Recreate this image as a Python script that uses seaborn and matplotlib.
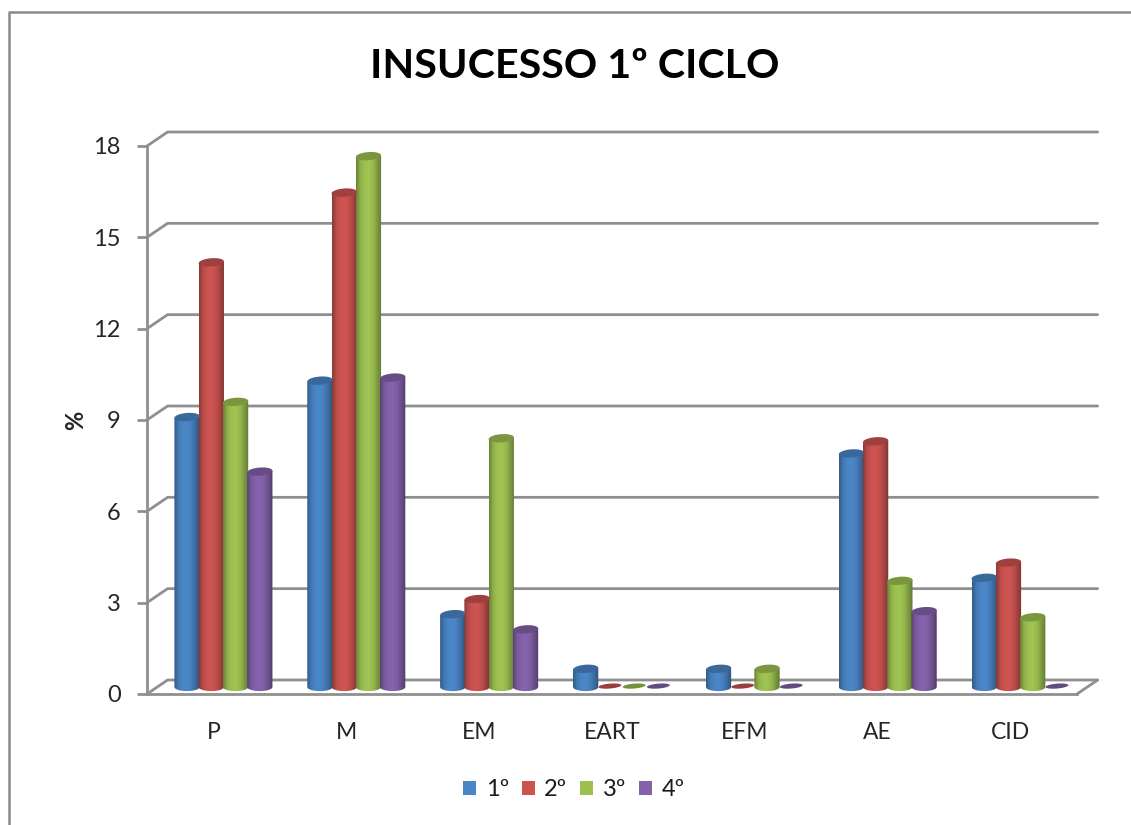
import numpy as np
import pandas as pd
import matplotlib
matplotlib.use("Agg")
import matplotlib.pyplot as plt
import seaborn as sns
from matplotlib.colors import LinearSegmentedColormap, to_rgb
from matplotlib.lines import Line2D
from matplotlib.patches import Patch, PathPatch
from matplotlib.path import Path

disciplinas = ["P", "M", "EM", "EART", "EFM", "AE", "CID"]
anos = ["1º", "2º", "3º", "4º"]
ano_1 = [8.9, 10.1, 2.4, 0.6, 0.6, 7.7, 3.6]
ano_2 = [14.0, 16.3, 2.9, 0.0, 0.0, 8.1, 4.1]
ano_3 = [9.4, 17.5, 8.2, 0.0, 0.6, 3.5, 2.3]
ano_4 = [7.1, 10.2, 1.9, 0.0, 0.0, 2.5, 0.0]
y_ticks = [0, 3, 6, 9, 12, 15, 18]
cores = ["#4a85c5", "#cb5350", "#9dc151", "#8462aa"]

W, H = 1131, 825
GREY = "#8f8f8f"

sns.set_theme(style="white")
plt.rcParams["font.family"] = ["Lato", "DejaVu Sans"]
plt.rcParams["text.color"] = "#1a1a1a"

df = pd.DataFrame({"disciplina": disciplinas * 4,
                   "ano": [a for a in anos for _ in disciplinas],
                   "valor": ano_1 + ano_2 + ano_3 + ano_4})


def px_axes(fig, left, top, right, bottom):
    return fig.add_axes([left / W, 1 - bottom / H, (right - left) / W, (bottom - top) / H])


def cap_path(cx, w, y, cap_h, tilt):
    # slightly tilted ellipse, the top of a cylinder
    t = np.linspace(0, 2 * np.pi, 48)
    return Path(np.column_stack([cx + w / 2 * np.cos(t),
                                 y + cap_h / 2 * np.sin(t) + tilt * np.cos(t)]))


fig = plt.figure(figsize=(W / 100, H / 100), dpi=100, facecolor="white")

# outer chart frame: only top and left edges show in the screenshot
fig.add_artist(Line2D([8.5 / W, 8.5 / W, 1.0], [0, 1 - 11.5 / H, 1 - 11.5 / H],
                      transform=fig.transFigure, color="#8a8a8a", lw=1.8))

# --- front plane: ticks, labels and the fake 3D walls ---
wall = px_axes(fig, 147, 146, 1077, 694)
wall.set_xlim(-0.5, 6.5)
wall.set_ylim(0, 18)
wall.set_xticks(range(len(disciplinas)))
wall.set_xticklabels(disciplinas, fontsize=16.5)
wall.set_yticks(y_ticks)
wall.tick_params(axis="y", left=True, length=7, width=2, color=GREY, labelsize=17, pad=12)
wall.tick_params(axis="x", bottom=False, pad=14)
wall.set_ylabel("%", fontsize=17, fontweight="bold", labelpad=4)
for name, sp in wall.spines.items():
    sp.set_visible(name in ("left", "bottom"))
    sp.set_color(GREY)
    sp.set_linewidth(2)

dx, dy = 0.155, 0.46  # depth of the floor in data units
for t in y_ticks:
    wall.plot([-0.5, -0.5 + dx, 6.5 + dx], [t, t + dy, t + dy], color=GREY, lw=2,
              clip_on=False, zorder=1, solid_joinstyle="miter")
wall.plot([6.5, 6.5 + dx], [0, dy], color=GREY, lw=2, clip_on=False, zorder=1)

# --- bars sit a little behind the front plane ---
ax = px_axes(fig, 157, 141, 1087, 687)
ax.patch.set_alpha(0)
sns.barplot(data=df, x="disciplina", y="valor", hue="ano", hue_order=anos,
            palette=cores, width=0.73, gap=0, legend=False, ax=ax)
ax.set_xlim(-0.5, 6.5)
ax.set_ylim(0, 18)
ax.axis("off")

cap_h = 0.27
tilt = 0.03
overlap = 0.004  # closes the hairline between neighbouring cylinders
for cont, cor in zip(ax.containers, cores):
    base = np.array(to_rgb(cor))
    cmap = LinearSegmentedColormap.from_list("cyl", [base * 0.68, base * 0.92, base, base * 1.02,
                                                     base * 0.95, base * 0.8, base * 0.62])
    grad = np.linspace(0, 1, 64).reshape(1, -1)
    for bar in cont:
        x0, w, h = bar.get_x() - overlap, bar.get_width() + 2 * overlap, bar.get_height()
        cx = x0 + w / 2
        bar.set_visible(False)
        if h <= 0:
            ax.add_patch(PathPatch(cap_path(cx, w * 0.9, 0.03, cap_h * 0.6, tilt), fc=base * 0.75,
                                   ec="none", clip_on=False, zorder=4))
            continue
        t = np.linspace(np.pi, 2 * np.pi, 24)
        arc = np.column_stack([cx + w / 2 * np.cos(t), cap_h / 2 * np.sin(t)])
        verts = np.vstack([[[x0, h - tilt]], arc, [[x0 + w, h + tilt]], [[x0, h - tilt]]])
        clip = PathPatch(Path(verts), transform=ax.transData, fc="none", ec="none")
        ax.add_patch(clip)
        im = ax.imshow(grad, extent=(x0, x0 + w, -cap_h, h + tilt), aspect="auto", cmap=cmap,
                       vmin=0, vmax=1, zorder=3, interpolation="bilinear")
        im.set_clip_path(clip)
        im.set_clip_box(fig.bbox)
        ax.add_patch(PathPatch(cap_path(cx, w, h, cap_h, tilt), fc=base * 0.78, ec="none",
                               clip_on=False, zorder=4))

ax.set_xlim(-0.5, 6.5)
ax.set_ylim(0, 18)

fig.text(575 / W, 1 - 66 / H, "INSUCESSO 1º CICLO", ha="center", va="center",
         fontsize=29.7, fontweight="bold", color="black")

handles = [Patch(fc=c, ec="none", label=a) for a, c in zip(anos, cores)]
fig.legend(handles=handles, ncol=4, loc="center", bbox_to_anchor=(574 / W, 1 - 790 / H),
           frameon=False, fontsize=17, handlelength=0.55, handleheight=0.55,
           handletextpad=0.4, columnspacing=0.55)

fig.savefig("out.png", dpi=100)
